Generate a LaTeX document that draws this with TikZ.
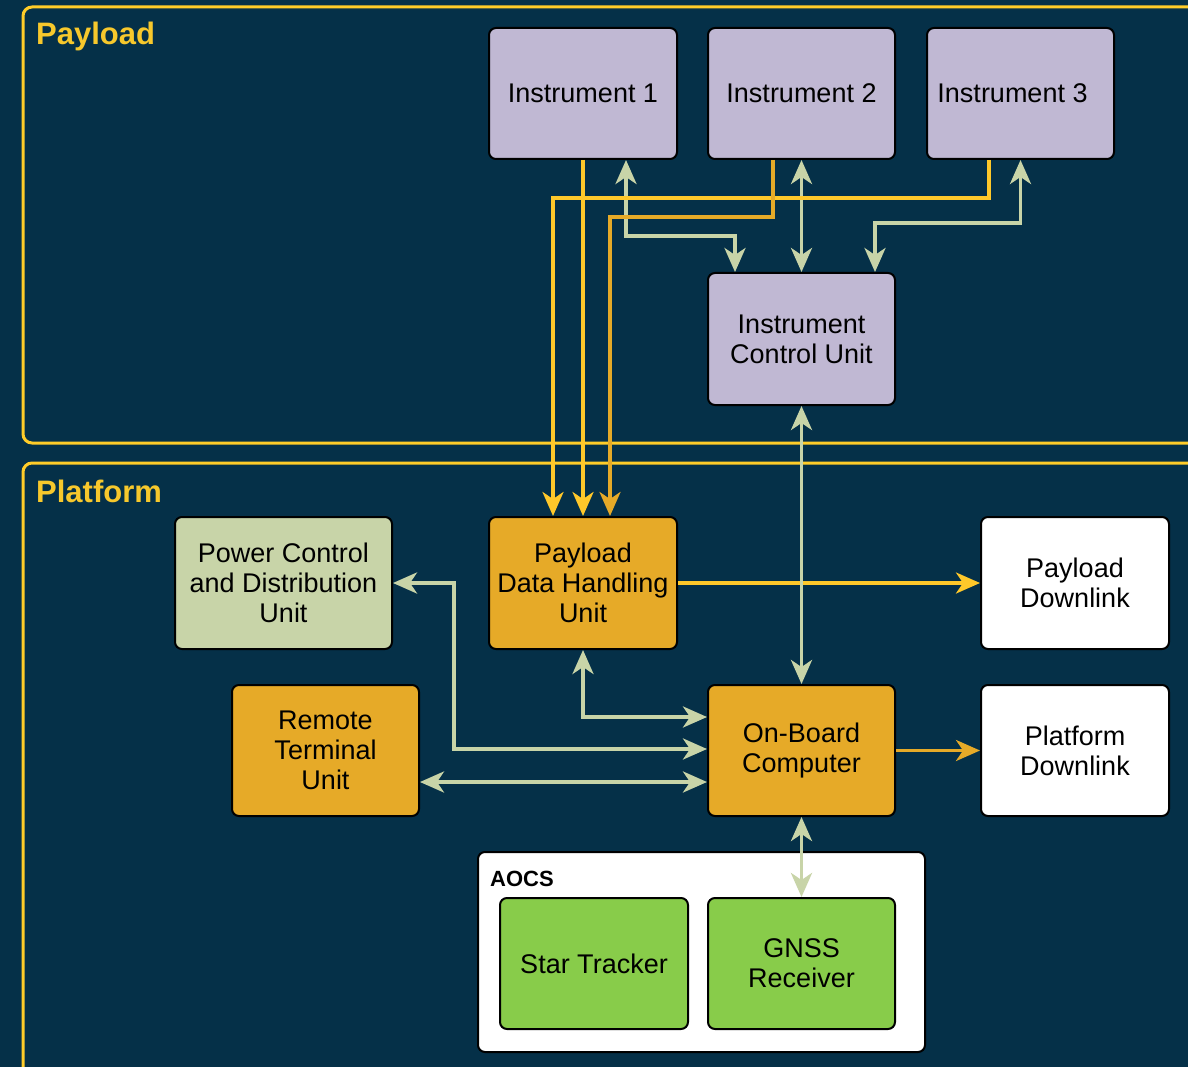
\documentclass[tikz,border=0pt]{standalone}
\usepackage{fontspec}
\setmainfont{Liberation Sans}
\usetikzlibrary{arrows.meta}
\definecolor{bgc}{RGB}{5,48,72}
\definecolor{frameyel}{RGB}{255,204,41}
\definecolor{titleyel}{RGB}{247,200,44}
\definecolor{lav}{RGB}{192,184,211}
\definecolor{orng}{RGB}{230,170,40}
\definecolor{pgreen}{RGB}{200,212,168}
\definecolor{lgreen}{RGB}{136,204,74}
\definecolor{yline}{RGB}{255,200,42}
\tikzset{
  blk/.style={draw=black, line width=2pt, rounded corners=7pt, minimum width=188pt, minimum height=131pt, align=center, inner sep=2pt, font=\fontsize{27}{30}\selectfont},
  frm/.style={draw=frameyel, line width=3pt, rounded corners=9pt},
  ttl/.style={text=titleyel, font=\fontsize{31}{34}\selectfont\bfseries, anchor=base west, inner sep=0pt},
  >={Stealth[length=24pt,width=21pt,inset=7pt]},
  gl/.style={draw=pgreen, line width=3.8pt, <->},
  yl/.style={draw=yline, line width=3.5pt, ->},
  ol/.style={draw=orng, line width=3.5pt, ->},
}
\begin{document}
\begin{tikzpicture}[x=1pt,y=-1pt]
\useasboundingbox (0,0) rectangle (1188,1067);
\fill[bgc] (0,0) rectangle (1188,1067);
\clip (0,0) rectangle (1188,1067);
% frames
\draw[frm] (23,7) rectangle (1210,443);
\draw[frm] (23,463) rectangle (1210,1090);
\node[ttl] (tpay) at (36,45) {Payload};
\node[ttl] (tplat) at (36,502) {Platform};
% AOCS group
\node[draw=black, line width=2pt, fill=white, rounded corners=7pt, minimum width=447pt, minimum height=200pt] (aocs) at (701.5,952) {};
\node[font=\fontsize{22}{26}\selectfont\bfseries, anchor=base west, inner sep=0pt] (taocs) at (490,886) {AOCS};
% blocks
\node[blk, fill=lav] (i1) at (583,93.5) {Instrument 1};
\node[blk, fill=lav, minimum width=187pt] (i2) at (801.5,93.5) {Instrument 2};
\node[blk, fill=lav, minimum width=187pt] (i3) at (1020.5,93.5) {Instrument 3\hspace{16pt}};
\node[blk, fill=lav, minimum width=187pt, minimum height=132pt] (icu) at (801.5,339) {Instrument\\Control Unit};
\node[blk, fill=orng, minimum height=132pt] (pdhu) at (583,583) {Payload\\Data Handling\\Unit};
\node[blk, fill=pgreen, minimum width=217pt, minimum height=132pt] (pcdu) at (283.5,583) {Power Control\\and Distribution\\Unit};
\node[blk, fill=white, minimum height=132pt] (pdl) at (1075,583) {Payload\\Downlink};
\node[blk, fill=orng, minimum width=187pt] (rtu) at (325.5,750.5) {Remote\\Terminal\\Unit};
\node[blk, fill=orng, minimum width=187pt] (obc) at (801.5,750.5) {On-Board\\Computer};
\node[blk, fill=white] (pldl) at (1075,750.5) {Platform\\Downlink};
\node[blk, fill=lgreen] (st) at (594,963.5) {Star Tracker};
\node[blk, fill=lgreen, minimum width=187pt] (gnss) at (801.5,963.5) {GNSS\\Receiver};
% anchor coordinates
\coordinate (y3a) at ([xshift=-31.5pt]i3.south);
\coordinate (y3b) at ([xshift=-30pt]pdhu.north);
\coordinate (o2a) at ([xshift=-28.5pt]i2.south);
\coordinate (o2b) at ([xshift=27pt]pdhu.north);
\coordinate (g1a) at ([xshift=43pt]i1.south);
\coordinate (g1b) at ([xshift=-66.5pt]icu.north);
\coordinate (g3b) at ([xshift=73.5pt]icu.north);
\coordinate (pobc) at ([yshift=33.5pt]obc.west);
\coordinate (cobc) at ([yshift=1.5pt]obc.west);
\coordinate (rtr) at ([yshift=-31.5pt]rtu.east);
\coordinate (rto) at ([yshift=-31.5pt]obc.west);
% green connectors (behind yellow ones)
\draw[gl] (g1a) -- ++(0,76) -| (g1b);
\draw[gl] (i2.south) -- (icu.north);
\draw[gl] (i3.south) -- ++(0,63) -| (g3b);
% yellow payload data lines
\draw[yl] (y3a) -- ++(0,38) -| (y3b);
\draw[yl] (i1.south) -- (pdhu.north);
\draw[ol] (o2a) -- ++(0,57) -| (o2b);
% platform connectors
\draw[yl] (pdhu.east) -- (pdl.west);
\draw[gl] (icu.south) -- (obc.north);
\draw[gl] (pdhu.south) |- (pobc);
\draw[gl] (pcdu.east) -- ++(61,0) |- (cobc);
\draw[gl] (rtr) -- (rto);
\draw[ol] (obc.east) -- (pldl.west);
\draw[gl] (obc.south) -- (gnss.north);
\end{tikzpicture}
\end{document}
